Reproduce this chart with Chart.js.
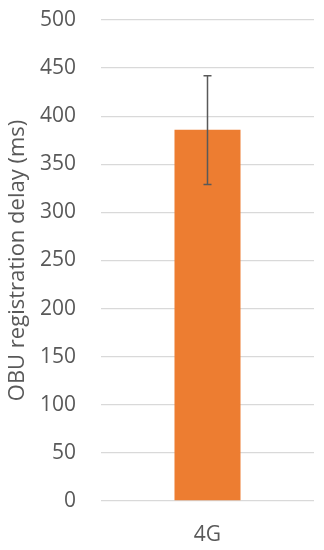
<!DOCTYPE html>
<html><head><meta charset="utf-8">
<script src="https://cdn.jsdelivr.net/npm/chart.js@4"></script>
<style>html,body{margin:0;padding:0;background:#fff}#wrap{width:324px;height:550px}</style>
</head><body><div id="wrap"><canvas id="c"></canvas></div>
<script>
const categories = ["4G"];
const delayValues = [386];
const errLow = [329];
const errHigh = [442];
const yTicks = [0, 50, 100, 150, 200, 250, 300, 350, 400, 450, 500];
const yTitle = "OBU registration delay (ms)";

const errorBarPlugin = {
  id: 'errorBars',
  afterDatasetsDraw(chart) {
    const ctx = chart.ctx;
    const meta = chart.getDatasetMeta(0);
    const y = chart.scales.y;
    ctx.save();
    ctx.strokeStyle = '#595959';
    ctx.lineWidth = 1.5;
    meta.data.forEach((bar, i) => {
      const x = bar.x;
      const yTop = y.getPixelForValue(errHigh[i]);
      const yBot = y.getPixelForValue(errLow[i]);
      ctx.beginPath();
      ctx.moveTo(x, yTop); ctx.lineTo(x, yBot);
      ctx.moveTo(x - 4, yTop); ctx.lineTo(x + 4, yTop);
      ctx.moveTo(x - 4, yBot); ctx.lineTo(x + 4, yBot);
      ctx.stroke();
    });
    ctx.restore();
  }
};

const font = { family: 'Open Sans', size: 21 };
new Chart(document.getElementById('c'), {
  type: 'bar',
  data: {
    labels: categories,
    datasets: [{ data: delayValues, backgroundColor: '#ED7D31', barPercentage: 0.31, categoryPercentage: 1.0 }]
  },
  options: {
    responsive: true,
    maintainAspectRatio: false,
    animation: false,
    layout: { padding: { top: 20, right: 10, bottom: 0, left: 0 } },
    plugins: { legend: { display: false }, tooltip: { enabled: false } },
    scales: {
      x: {
        afterFit(axis) { axis.height = 49; },
        grid: { display: false, drawTicks: false },
        border: { display: false },
        ticks: { color: '#595959', font: font, padding: 21 }
      },
      y: {
        min: 0, max: 500,
        afterFit(axis) { axis.width = 101; axis.paddingTop = 0; axis.paddingBottom = 0; },
        afterBuildTicks(axis) { axis.ticks = yTicks.map(v => ({ value: v })); },
        grid: { color: '#d9d9d9', lineWidth: 1.3, drawTicks: false },
        border: { display: false },
        ticks: { color: '#595959', font: font, padding: 25 },
        title: { display: true, text: yTitle, color: '#595959', font: { family: 'Open Sans', size: 22 }, padding: { top: 5, bottom: 2 } }
      }
    }
  },
  plugins: [errorBarPlugin]
});
</script></body></html>
